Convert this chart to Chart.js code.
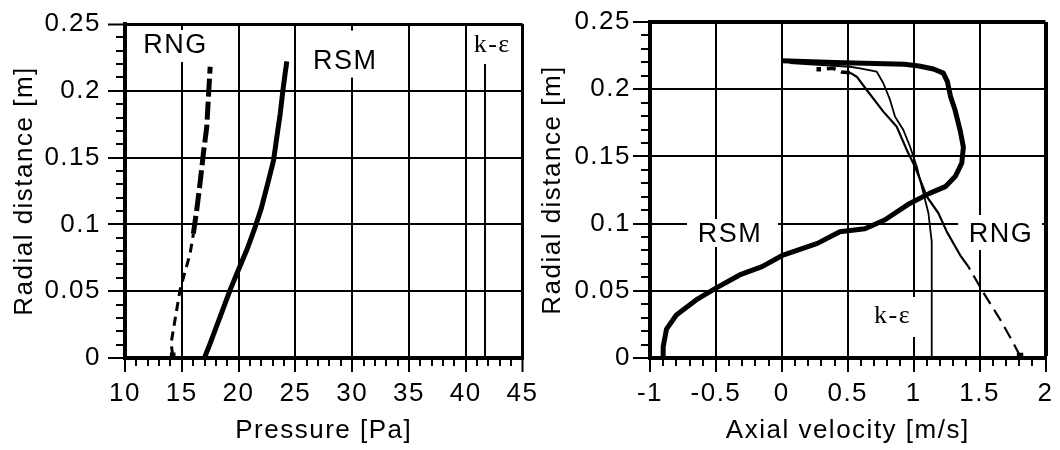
<!DOCTYPE html>
<html>
<head>
<meta charset="utf-8">
<script src="https://cdn.jsdelivr.net/npm/chart.js@4/dist/chart.umd.min.js"></script>
<style>
  html, body { margin: 0; padding: 0; background: #fff; }
  #wrap { position: relative; width: 1060px; height: 450px; overflow: hidden; }
  #pressure { position: absolute; left: 0; top: 0; }
  #velocity { position: absolute; left: 530px; top: 0; z-index: 1; }
</style>
</head>
<body>
<div id="wrap">
  <canvas id="pressure" width="560" height="450"></canvas>
  <canvas id="velocity" width="530" height="450"></canvas>
</div>
<script>
// ---- Pressure profiles [Pa] against radial distance [m] ----
const pressureRngP = [14.2, 14.06, 14.45, 14.85, 15.3, 15.73, 16.02, 16.32, 16.61, 16.9, 17.2, 17.35, 17.5];
const pressureRngR = [0.002, 0.011, 0.031, 0.051, 0.065, 0.078, 0.093, 0.111, 0.131, 0.153, 0.173, 0.196, 0.218];
const pressureRsmP = [16.99, 17.5, 18.38, 19.26, 19.99, 20.73, 21.46, 22.0, 22.64, 23.08, 23.38, 23.67, 23.9, 24.1, 24.25];
const pressureRsmR = [0, 0.011, 0.031, 0.051, 0.066, 0.081, 0.098, 0.112, 0.133, 0.148, 0.166, 0.183, 0.2, 0.213, 0.222];
const pressureKeP = [41.7, 41.7];
const pressureKeR = [0, 0.22];

// ---- Axial velocity profiles [m/s] against radial distance [m] ----
const velocityRsmV = [-0.9, -0.9, -0.875, -0.8, -0.65, -0.5, -0.32, -0.15, 0.01, 0.27, 0.44, 0.63, 0.78, 0.97, 1.12, 1.24, 1.315, 1.365, 1.377, 1.352, 1.314, 1.28, 1.256, 1.225, 1.15, 1.04, 0.93, 0.4, 0.0];
const velocityRsmR = [0, 0.0084, 0.0215, 0.032, 0.0432, 0.052, 0.0618, 0.068, 0.0766, 0.0853, 0.094, 0.0962, 0.1027, 0.115, 0.1225, 0.1275, 0.135, 0.145, 0.157, 0.1696, 0.1845, 0.1944, 0.2056, 0.212, 0.215, 0.2173, 0.2185, 0.2198, 0.2212];
const velocityRngV = [1.807, 1.757, 1.66, 1.517, 1.415, 1.352, 1.251, 1.188, 1.1, 1.01, 0.948, 0.872, 0.77, 0.644, 0.568, 0.517, 0.45, 0.39, 0.28];
const velocityRngR = [0.0015, 0.011, 0.028, 0.0506, 0.068, 0.0766, 0.094, 0.1077, 0.12, 0.1423, 0.1548, 0.172, 0.1833, 0.1994, 0.2093, 0.2123, 0.2128, 0.2155, 0.2148];
const velocityKeV = [1.137, 1.137, 1.112, 1.087, 1.061, 1.024, 0.973, 0.922, 0.859, 0.821, 0.77, 0.72, 0.593, 0.517, 0.06];
const velocityKeR = [0, 0.0866, 0.1077, 0.1176, 0.1275, 0.1423, 0.1572, 0.1696, 0.1795, 0.192, 0.2044, 0.213, 0.2155, 0.2167, 0.2195];

// ---- Tick labels ----
const radiusTicks = ['0', '0.05', '0.1', '0.15', '0.2', '0.25'];
const pressureTicks = ['10', '15', '20', '25', '30', '35', '40', '45'];
const velocityTicks = ['-1', '-0.5', '0', '0.5', '1', '1.5', '2'];

// ---- Curve labels (anchored in data units) ----
const pressureLabelText = ['RNG', 'RSM', 'k-ε'];
const pressureLabelX = [14.45, 29.4, 42.33];
const pressureLabelY = [0.2335, 0.2219, 0.2343];
const velocityLabelText = ['RSM', 'RNG', 'k-ε'];
const velocityLabelX = [-0.393, 1.663, 0.84];
const velocityLabelY = [0.0915, 0.0915, 0.0309];

const SANS = "'Liberation Sans', Arial, sans-serif";
const SERIF = "'Liberation Serif', 'Times New Roman', serif";

const zip = (xs, ys) => xs.map((x, i) => ({ x, y: ys[i] }));

// Minor tick marks plus white-backed curve labels, drawn over the grid
const decorations = {
  id: 'decorations',
  beforeDraw(chart) {
    chart.ctx.letterSpacing = '1.5px';
  },
  beforeDatasetsDraw(chart, args, opts) {
    const ctx = chart.ctx, xs = chart.scales.x, ys = chart.scales.y, a = chart.chartArea;
    ctx.save();
    ctx.strokeStyle = '#000';
    ctx.lineWidth = 2;
    ctx.beginPath();
    const yCount = Math.round((ys.max - ys.min) / opts.yMinor);
    const yRatio = Math.round(opts.yMajor / opts.yMinor);
    for (let i = 1; i < yCount; i++) {
      if (i % yRatio === 0) continue;
      const py = Math.round(ys.getPixelForValue(ys.min + i * opts.yMinor));
      ctx.moveTo(a.left - 2, py);
      ctx.lineTo(a.left - 2 - opts.yMinorLen, py);
    }
    const xCount = Math.round((xs.max - xs.min) / opts.xMinor);
    const xRatio = Math.round(opts.xMajor / opts.xMinor);
    for (let i = 1; i < xCount; i++) {
      if (i % xRatio === 0) continue;
      const px = Math.round(xs.getPixelForValue(xs.min + i * opts.xMinor));
      ctx.moveTo(px, a.bottom + 2);
      ctx.lineTo(px, a.bottom + 2 + opts.xMinorLen);
    }
    ctx.stroke();

    opts.labels.forEach(l => {
      const cx = xs.getPixelForValue(l.x), cy = ys.getPixelForValue(l.y);
      const [bl, bt, br, bb] = l.box;
      ctx.fillStyle = '#fff';
      ctx.fillRect(cx - bl, cy - bt, bl + br, bt + bb);
      ctx.font = l.font;
      ctx.fillStyle = '#000';
      ctx.textAlign = 'center';
      ctx.textBaseline = 'middle';
      ctx.fillText(l.text, cx, cy);
    });
    ctx.restore();
  }
};

function buildScales(cfg) {
  const gridWidth = edge => ctx => (ctx.tick && Math.abs(ctx.tick.value - edge) < 1e-9) ? cfg.edgeWidth : 2;
  return {
    x: {
      type: 'linear', min: cfg.xMin, max: cfg.xMax,
      afterFit: s => { s.height = 92; s.paddingLeft = 0; s.paddingRight = 0; },
      ticks: {
        stepSize: cfg.xStep, autoSkip: false, maxRotation: 0, padding: 6, color: '#000',
        font: { family: SANS, size: 26 },
        callback: (v, i) => cfg.xTicks[i]
      },
      grid: { color: '#000', lineWidth: gridWidth(cfg.xMax), tickLength: 14, tickWidth: 2, tickColor: '#000' },
      border: { display: true, color: '#000', width: 4 },
      title: { display: true, text: cfg.xTitle, color: '#000', font: { family: SANS, size: 26 }, padding: { top: 0, bottom: 3.5 } }
    },
    y: {
      type: 'linear', min: 0, max: 0.25,
      afterFit: s => { s.width = cfg.yWidth; s.paddingTop = 0; s.paddingBottom = 0; },
      ticks: {
        stepSize: 0.05, autoSkip: false, padding: cfg.yTickPad, color: '#000',
        font: { family: SANS, size: 26 },
        callback: (v, i) => radiusTicks[i]
      },
      grid: { color: '#000', lineWidth: gridWidth(0.25), tickLength: 17, tickWidth: 2, tickColor: '#000' },
      border: { display: true, color: '#000', width: 4 },
      title: { display: true, text: 'Radial distance [m]', color: '#000', font: { family: SANS, size: 26 }, padding: { top: cfg.yTitlePad, bottom: 0 } }
    }
  };
}

const lineBase = {
  showLine: true, borderColor: '#000', backgroundColor: '#000', fill: false,
  pointRadius: 0, pointBorderWidth: 0, pointBackgroundColor: '#000', pointStyle: 'rect',
  borderJoinStyle: 'round', borderCapStyle: 'butt', tension: 0
};

const commonOptions = {
  responsive: false, maintainAspectRatio: false, devicePixelRatio: 1, animation: false,
  events: []
};

// Pressure chart
new Chart(document.getElementById('pressure'), {
  type: 'scatter',
  data: {
    datasets: [
      Object.assign({}, lineBase, {
        label: 'RNG', data: zip(pressureRngP, pressureRngR), borderWidth: 4,
        pointRadius: c => c.dataIndex === 0 ? 4 : 0,
        segment: {
          borderDash: s => s.p0.parsed.y >= 0.085 ? [18, 5] : [9, 6],
          borderWidth: s => s.p0.parsed.y >= 0.085 ? 5 : 3
        }
      }),
      Object.assign({}, lineBase, { label: 'RSM', data: zip(pressureRsmP, pressureRsmR), borderWidth: 5 }),
      Object.assign({}, lineBase, { label: 'k-ε', data: zip(pressureKeP, pressureKeR), borderWidth: 2 })
    ]
  },
  options: Object.assign({}, commonOptions, {
    layout: { padding: { top: 24, right: 37.5, bottom: 0, left: 0 } },
    scales: buildScales({
      xMin: 10, xMax: 45, xStep: 5, xTicks: pressureTicks, xTitle: 'Pressure [Pa]',
      yWidth: 125, yTickPad: 7, yTitlePad: 9, edgeWidth: 3
    }),
    plugins: {
      legend: { display: false }, tooltip: { enabled: false },
      decorations: {
        yMinor: 0.01, yMajor: 0.05, yMinorLen: 7, xMinor: 1, xMajor: 5, xMinorLen: 6,
        labels: [
          { text: pressureLabelText[0], x: pressureLabelX[0], y: pressureLabelY[0], font: `27px ${SANS}`, box: [37, 16, 37, 16] },
          { text: pressureLabelText[1], x: pressureLabelX[1], y: pressureLabelY[1], font: `27px ${SANS}`, box: [40, 31, 40, 16] },
          { text: pressureLabelText[2], x: pressureLabelX[2], y: pressureLabelY[2], font: `26px ${SERIF}`, box: [20, 10, 20, 10] }
        ]
      }
    }
  }),
  plugins: [decorations]
});

// Axial velocity chart
new Chart(document.getElementById('velocity'), {
  type: 'scatter',
  data: {
    datasets: [
      Object.assign({}, lineBase, { label: 'RSM', data: zip(velocityRsmV, velocityRsmR), borderWidth: 5 }),
      Object.assign({}, lineBase, {
        label: 'RNG', data: zip(velocityRngV, velocityRngR), borderWidth: 2.2,
        pointRadius: c => (c.dataIndex === 0 ? 4.5 : (c.dataIndex === velocityRngV.length - 1 ? 3.2 : 0)),
        segment: {
          borderDash: s => (s.p1.parsed.y <= 0.0685 ? [13, 7] : (s.p0.parsed.y >= 0.2122 ? [9, 6] : [])),
          borderWidth: s => (s.p0.parsed.y >= 0.2122 ? 3.5 : 2.2)
        }
      }),
      Object.assign({}, lineBase, { label: 'k-ε', data: zip(velocityKeV, velocityKeR), borderWidth: 1.8 })
    ]
  },
  options: Object.assign({}, commonOptions, {
    layout: { padding: { top: 22, right: 14.5, bottom: 0, left: 0 } },
    scales: buildScales({
      xMin: -1, xMax: 2, xStep: 0.5, xTicks: velocityTicks, xTitle: 'Axial velocity [m/s]',
      yWidth: 120, yTickPad: 2, yTitlePad: 7.5, edgeWidth: 4
    }),
    plugins: {
      legend: { display: false }, tooltip: { enabled: false },
      decorations: {
        yMinor: 0.01, yMajor: 0.05, yMinorLen: 7, xMinor: 0.1, xMajor: 0.5, xMinorLen: 6,
        labels: [
          { text: velocityLabelText[0], x: velocityLabelX[0], y: velocityLabelY[0], font: `27px ${SANS}`, box: [43, 16, 48, 12] },
          { text: velocityLabelText[1], x: velocityLabelX[1], y: velocityLabelY[1], font: `27px ${SANS}`, box: [43, 20, 41, 15] },
          { text: velocityLabelText[2], x: velocityLabelX[2], y: velocityLabelY[2], font: `26px ${SERIF}`, box: [24.5, 19.5, 28.5, 20.5] }
        ]
      }
    }
  }),
  plugins: [decorations]
});
</script>
</body>
</html>
